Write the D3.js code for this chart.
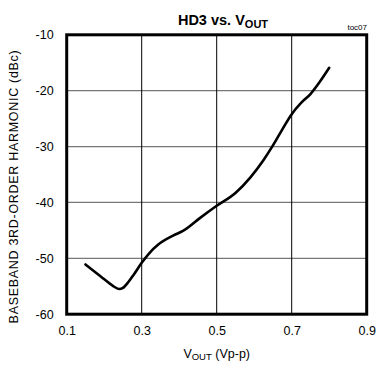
<!DOCTYPE html>
<html><head><meta charset="utf-8">
<script src="https://cdn.jsdelivr.net/npm/d3@7"></script>
<style>body{margin:0;background:#fff}svg{display:block}text{font-family:Arial,"Liberation Sans",sans-serif;fill:#000}</style>
</head><body><svg id="c" width="376" height="365"></svg>
<script>
const vout = [0.15, 0.19, 0.225, 0.24, 0.25, 0.265, 0.28, 0.30, 0.32, 0.345, 0.385, 0.41, 0.455, 0.50, 0.55, 0.59, 0.625, 0.65, 0.67, 0.70, 0.725, 0.75, 0.775, 0.80];
const hd3 = [-51.1, -53.2, -55.0, -55.5, -55.3, -54.2, -52.8, -50.8, -49.1, -47.5, -45.9, -45.1, -42.8, -40.6, -38.3, -35.5, -32.4, -29.8, -27.5, -24.2, -22.2, -20.6, -18.4, -15.9];
const xTicks = [0.1, 0.3, 0.5, 0.7, 0.9];
const yTicks = [-10, -20, -30, -40, -50, -60];

const svg = d3.select("#c");
const L = 66.7, R = 366.7, T = 34.8, B = 314.2;
const x = d3.scaleLinear().domain([0.1, 0.9]).range([L, R]);
const y = d3.scaleLinear().domain([-60, -10]).range([B, T]);

// grid
svg.append("g").selectAll("line").data(yTicks.slice(1, -1)).join("line")
  .attr("x1", L).attr("x2", R).attr("y1", d => y(d)).attr("y2", d => y(d))
  .attr("stroke", "#777").attr("stroke-width", 1.2);
svg.append("g").selectAll("line").data(xTicks.slice(1, -1)).join("line")
  .attr("y1", T).attr("y2", B).attr("x1", d => x(d)).attr("x2", d => x(d))
  .attr("stroke", "#000").attr("stroke-width", 1);

// axes labels via d3 axes
const xa = svg.append("g").attr("transform", `translate(0,${B})`)
  .call(d3.axisBottom(x).tickValues(xTicks).tickSize(0).tickPadding(12).tickFormat(d3.format(".1f")));
xa.select(".domain").remove();
xa.selectAll("text").attr("font-size", 12.5).attr("font-family", "Arial, 'Liberation Sans', sans-serif").attr("fill", "#000");
const ya = svg.append("g").attr("transform", `translate(${L},0)`)
  .call(d3.axisLeft(y).tickValues(yTicks).tickSize(0).tickPadding(13).tickFormat(d => d));
ya.select(".domain").remove();
ya.selectAll("text").attr("font-size", 12.5).attr("font-family", "Arial, 'Liberation Sans', sans-serif").attr("fill", "#000");

// curve
svg.append("path").datum(vout.map((v, i) => [v, hd3[i]]))
  .attr("d", d3.line().x(d => x(d[0])).y(d => y(d[1])).curve(d3.curveMonotoneX))
  .attr("fill", "none").attr("stroke", "#000").attr("stroke-width", 2.6)
  .attr("stroke-linejoin", "round").attr("stroke-linecap", "round");

// frame
svg.append("rect").attr("x", L).attr("y", T).attr("width", R - L).attr("height", B - T)
  .attr("fill", "none").attr("stroke", "#000").attr("stroke-width", 3);

// title
const t = svg.append("text").attr("x", 223).attr("y", 25).attr("text-anchor", "middle")
  .attr("font-size", 14.5).attr("font-weight", "bold");
t.append("tspan").text("HD3 vs. V");
t.append("tspan").attr("font-size", 11).attr("dy", 3).text("OUT");

svg.append("text").attr("x", 367).attr("y", 30).attr("text-anchor", "end")
  .attr("font-size", 8).text("toc07");

// x title
const xt = svg.append("text").attr("x", 216.7).attr("y", 358).attr("text-anchor", "middle").attr("font-size", 12.5);
xt.append("tspan").text("V");
xt.append("tspan").attr("font-size", 9.5).attr("dy", 2).text("OUT");
xt.append("tspan").attr("dy", -2).text(" (Vp-p)");

// y title
svg.append("text").attr("transform", `translate(18,${(T + B) / 2 + 12}) rotate(-90)`)
  .attr("text-anchor", "middle").attr("font-size", 12.5).attr("letter-spacing", 0.7)
  .text("BASEBAND 3RD-ORDER HARMONIC (dBc)");
</script></body></html>
